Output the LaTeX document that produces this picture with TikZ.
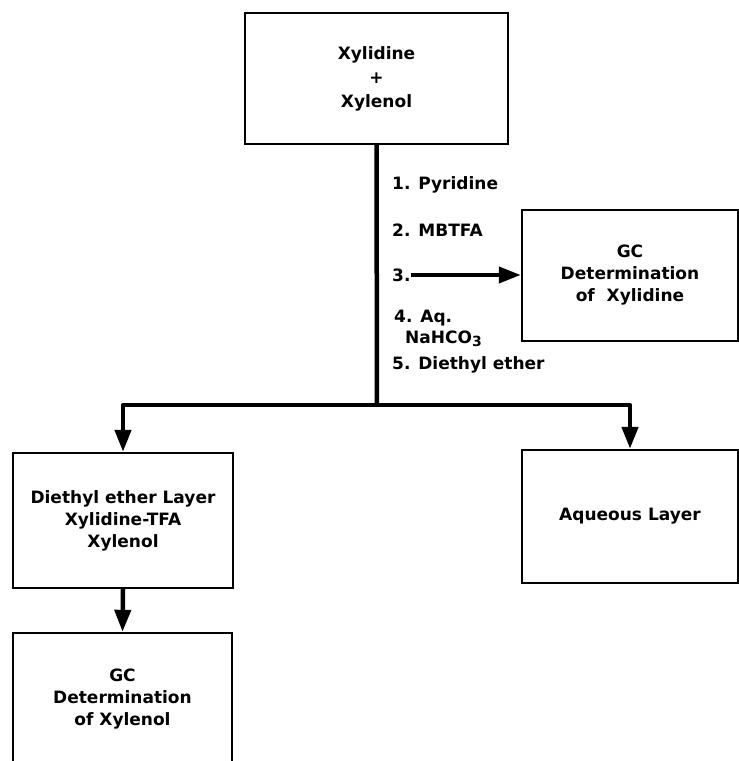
\documentclass[tikz,border=0pt]{standalone}
\usepackage{fontspec}
\setmainfont{DejaVu Sans}
\usetikzlibrary{arrows.meta}
\begin{document}
\begin{tikzpicture}[x=1pt,y=-1pt,
  box/.style={draw, line width=2.4pt, rectangle, inner sep=0pt, align=center,
    font=\fontsize{17}{22}\selectfont\bfseries},
  conn/.style={line width=4.5pt, line join=round},
  tip/.style={-{Triangle[length=22pt,width=16pt]}},
  lbl/.style={anchor=west, inner sep=0pt, font=\fontsize{17}{20}\selectfont\bfseries}]
\useasboundingbox (0,0) rectangle (739,761);
\clip (0,0) rectangle (739,761);
\node[box, minimum width=263pt, minimum height=131pt,
  font=\fontsize{17}{24}\selectfont\bfseries] (start) at (376.5,78.5) {Xylidine\\+\\Xylenol};
\node[box, minimum width=216pt, minimum height=131pt] (gcx) at (630,275.5)
  {GC\\Determination\\of\ \ Xylidine};
\node[box, minimum width=220pt, minimum height=135pt] (ether) at (123,520.5)
  {Diethyl ether Layer\\Xylidine-TFA\\Xylenol};
\node[box, minimum width=216pt, minimum height=133pt] (aq) at (630,516.5) {Aqueous Layer};
\node[box, minimum width=219pt, minimum height=132pt] (gcy) at (122.5,699)
  {GC\\Determination\\of Xylenol};
\node[lbl] (l1) at (392,185) {1. Pyridine};
\node[lbl] (l2) at (392,230) {2. MBTFA};
\node[lbl] (l3) at (392,275) {3.};
\node[lbl] (l4) at (394,318) {4. Aq.};
\node[lbl] (l4b) at (405,339) {NaHCO\raisebox{-0.35ex}{\fontsize{14}{14}\selectfont 3}};
\node[lbl] (l5) at (392,365) {5. Diethyl ether};
\coordinate (j) at (377,405);
\draw[conn] (start.south) -- (j);
\draw[conn,tip] (j) -| (ether.north);
\draw[conn,tip] (j) -| (aq.north);
\draw[conn,tip] (ether.south) -- (gcy.north);
\draw[line width=4pt,tip] (l3.east) -- (l3.east -| gcx.west);
\end{tikzpicture}
\end{document}
